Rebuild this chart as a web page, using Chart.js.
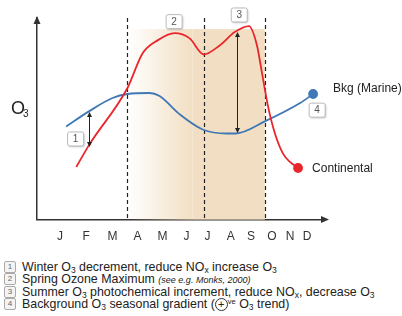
<!DOCTYPE html>
<html>
<head>
<meta charset="utf-8">
<script src="https://cdn.jsdelivr.net/npm/chart.js@4.4.0/dist/chart.umd.min.js"></script>
<style>
  body { margin: 0; background: #fff; font-family: "Liberation Sans", Arial, sans-serif; }
  #wrap { position: relative; width: 402px; height: 316px; overflow: hidden; }
  #box { position: absolute; left: 0; top: 0; width: 402px; height: 250px; }
  .note { position: absolute; left: 22px; font-size: 12.4px; color: #222; white-space: nowrap; line-height: 12px; }
  .note sub { font-size: 8.5px; vertical-align: -2px; line-height: 0; }
  .note sup { font-size: 7.5px; vertical-align: 4px; line-height: 0; }
  .note i { font-size: 9px; }
  .ico { position: absolute; left: 4px; width: 10px; height: 10px; border: 1px solid #aaa; border-radius: 2px;
         font-size: 8px; color: #666; text-align: center; line-height: 10px; background: #f4f4f4; }
  .circ { display: inline-block; width: 11px; height: 11px; border: 1px solid #333; border-radius: 50%;
          text-align: center; line-height: 10px; font-size: 11px; }
</style>
</head>
<body>
<div id="wrap">
  <div id="box"><canvas id="myChart"></canvas></div>
  <div class="ico" style="top:261px">1</div>
  <div class="note" style="top:261px">Winter O<sub>3</sub> decrement, reduce NO<sub>x</sub> increase O<sub>3</sub></div>
  <div class="ico" style="top:273px">2</div>
  <div class="note" style="top:273px">Spring Ozone Maximum <i>(see e.g. Monks, 2000)</i></div>
  <div class="ico" style="top:286px">3</div>
  <div class="note" style="top:286px">Summer O<sub>3</sub> photochemical increment, reduce NO<sub>x</sub>, decrease O<sub>3</sub></div>
  <div class="ico" style="top:298px">4</div>
  <div class="note" style="top:298px">Background O<sub>3</sub> seasonal gradient (<span class="circ">+</span><sup>ve</sup> O<sub>3</sub> trend)</div>
</div>
<script>
"use strict";

// month labels and where they sit along the x axis (month units, as drawn)
var months   = ['J', 'F', 'M', 'A', 'M', 'J', 'J', 'A', 'S', 'O', 'N', 'D'];
var monthPos = [0, 1.16, 2.33, 3.45, 4.56, 5.63, 6.57, 7.6, 8.5, 9.43, 10.24, 11];

// Continental (red) curve
var contX = [0.72, 1.30, 3.0, 3.67, 4.34, 5.10, 5.77, 6.40, 7.11, 7.78, 8.41, 8.77, 8.99, 9.26, 9.57, 9.93, 10.24, 10.60];
var contY = [26.1, 37.2, 65.3, 82.4, 88.9, 92.5, 89.9, 81.9, 86.4, 93.0, 96.0, 86.4, 72.9, 56.3, 42.7, 32.7, 28.6, 25.6];

// Background marine (blue) curve
var bkgX = [0.27, 1.30, 2.33, 3.0, 3.98, 4.43, 5.32, 6.35, 7.42, 7.83, 9.12, 10.69, 11.27];
var bkgY = [46.2, 53.8, 60.3, 62.3, 62.8, 61.3, 52.3, 44.7, 42.7, 42.7, 48.7, 57.8, 62.3];

// season boundaries (dashed lines) and shaded summer band
var seasonLines = [3.0, 6.40, 9.12];
var shadeFrom = 3.0, shadeSolid = 5.9, shadeTo = 9.12, shadeTop = 94.5;

// numbered markers [label, x, y] and double arrows [x, yTop, yBottom]
var markers = [['1', 0.69, 40], ['2', 5.08, 98.2], ['3', 7.98, 101.5], ['4', 11.45, 54.3]];
var arrows  = [[1.27, 53.4, 36.0], [7.87, 93.0, 43.0]];

function pts(xs, ys) {
    return xs.map(function (x, i) { return { x: x, y: ys[i] }; });
}

function lastDot(ctx) {
    return ctx.dataIndex === ctx.dataset.data.length - 1 ? 4 : 0;
}

function arrowHead(c, x, y, dir) {
    c.beginPath();
    c.moveTo(x, y);
    c.lineTo(x - 2.5, y - 5 * dir);
    c.lineTo(x + 2.5, y - 5 * dir);
    c.closePath();
    c.fill();
}

var decor = {
    id: 'decor',
    beforeDatasetsDraw: function (chart) {
        var c = chart.ctx, xs = chart.scales.x, ys = chart.scales.y;
        var x0 = xs.getPixelForValue(shadeFrom), x1 = xs.getPixelForValue(shadeSolid), x2 = xs.getPixelForValue(shadeTo);
        var top = ys.getPixelForValue(shadeTop), bot = ys.getPixelForValue(0);
        var g = c.createLinearGradient(x0, 0, x1, 0);
        g.addColorStop(0, 'rgba(242,223,195,0)');
        g.addColorStop(1, 'rgba(242,223,195,1)');
        c.save();
        c.fillStyle = g;
        c.fillRect(x0, top, x1 - x0, bot - top);
        c.fillStyle = 'rgb(242,223,195)';
        c.fillRect(x1, top, x2 - x1, bot - top);

        // dashed season lines
        c.strokeStyle = '#222';
        c.lineWidth = 1.2;
        c.setLineDash([4, 3]);
        seasonLines.forEach(function (v) {
            var px = Math.round(xs.getPixelForValue(v)) + 0.5;
            c.beginPath();
            c.moveTo(px, ys.getPixelForValue(100));
            c.lineTo(px, bot);
            c.stroke();
        });
        c.restore();
    },
    afterDatasetsDraw: function (chart) {
        var c = chart.ctx, xs = chart.scales.x, ys = chart.scales.y, a = chart.chartArea;
        c.save();

        // double arrows
        c.strokeStyle = '#222';
        c.fillStyle = '#222';
        c.lineWidth = 1;
        arrows.forEach(function (ar) {
            var px = Math.round(xs.getPixelForValue(ar[0])) + 0.5;
            var t = ys.getPixelForValue(ar[1]), b = ys.getPixelForValue(ar[2]);
            c.beginPath();
            c.moveTo(px, t + 3);
            c.lineTo(px, b - 3);
            c.stroke();
            arrowHead(c, px, t, -1);
            arrowHead(c, px, b, 1);
        });

        // axis arrow heads
        c.fillStyle = '#333';
        c.beginPath();
        c.moveTo(a.left, a.top - 2);
        c.lineTo(a.left - 3.5, a.top + 6);
        c.lineTo(a.left + 3.5, a.top + 6);
        c.closePath();
        c.fill();
        c.beginPath();
        c.moveTo(a.right + 4, a.bottom);
        c.lineTo(a.right - 4, a.bottom - 3.5);
        c.lineTo(a.right - 4, a.bottom + 3.5);
        c.closePath();
        c.fill();

        // numbered boxes
        markers.forEach(function (m) {
            var cx = xs.getPixelForValue(m[1]), cy = ys.getPixelForValue(m[2]);
            c.shadowColor = 'rgba(0,0,0,0.25)';
            c.shadowBlur = 2;
            c.shadowOffsetX = 1;
            c.shadowOffsetY = 1;
            c.fillStyle = '#fff';
            c.beginPath();
            c.roundRect(cx - 8, cy - 7, 16, 14, 2);
            c.fill();
            c.shadowColor = 'transparent';
            c.strokeStyle = '#bbb';
            c.lineWidth = 1;
            c.stroke();
            c.fillStyle = '#555';
            c.font = '10px "Liberation Sans", Arial';
            c.textAlign = 'center';
            c.textBaseline = 'middle';
            c.fillText(m[0], cx, cy + 0.5);
        });

        // series labels
        c.fillStyle = '#222';
        c.font = '12px "Liberation Sans", Arial';
        c.textAlign = 'left';
        c.textBaseline = 'middle';
        var bl = bkgX.length - 1, cl = contX.length - 1;
        c.fillText('Bkg (Marine)', xs.getPixelForValue(bkgX[bl]) + 20, ys.getPixelForValue(bkgY[bl]) - 5);
        c.fillText('Continental', xs.getPixelForValue(contX[cl]) + 14, ys.getPixelForValue(contY[cl]) + 1);

        // axis title O3
        c.textBaseline = 'alphabetic';
        c.font = '18px "Liberation Sans", Arial';
        c.fillText('O', 11, 114);
        c.font = '10px "Liberation Sans", Arial';
        c.fillText('3', 23, 117);
        c.restore();
    }
};

new Chart(document.getElementById('myChart'), {
    type: 'line',
    data: {
        datasets: [{
            label: 'Continental',
            data: pts(contX, contY),
            borderColor: '#e8262b',
            backgroundColor: '#e8262b',
            borderWidth: 1.8,
            pointRadius: lastDot,
            pointHoverRadius: 0,
            cubicInterpolationMode: 'monotone',
            clip: false
        }, {
            label: 'Bkg (Marine)',
            data: pts(bkgX, bkgY),
            borderColor: '#3f78b5',
            backgroundColor: '#3f78b5',
            borderWidth: 1.8,
            pointRadius: lastDot,
            pointHoverRadius: 0,
            cubicInterpolationMode: 'monotone',
            clip: false
        }]
    },
    options: {
        responsive: true,
        maintainAspectRatio: false,
        animation: false,
        layout: { padding: { left: 29, right: 77, top: 18, bottom: 4 } },
        plugins: { legend: { display: false }, tooltip: { enabled: false } },
        scales: {
            x: {
                type: 'linear',
                min: -1.03,
                max: 11.8,
                grid: { display: false },
                border: { display: true, color: '#333', width: 1.5 },
                afterBuildTicks: function (axis) {
                    axis.ticks = monthPos.map(function (v) { return { value: v }; });
                },
                ticks: {
                    autoSkip: false,
                    maxRotation: 0,
                    padding: 2,
                    color: '#333',
                    font: { family: '"Liberation Sans", Arial', size: 12 },
                    callback: function (value, index) { return months[index]; }
                }
            },
            y: {
                min: 0,
                max: 100,
                grid: { display: false },
                border: { display: true, color: '#333', width: 1.5 },
                ticks: { display: false }
            }
        }
    },
    plugins: [decor]
});
</script>
</body>
</html>
